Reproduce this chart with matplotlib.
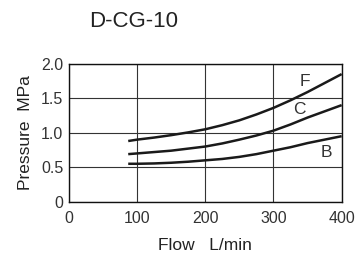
import numpy as np
import matplotlib
matplotlib.use("Agg")
import matplotlib.pyplot as plt

# Data (flow in L/min, pressure in MPa)
flow = [87, 100, 125, 150, 175, 200, 225, 250, 275, 300, 325, 350, 375, 400]
curve_f = [0.88, 0.90, 0.93, 0.965, 1.005, 1.05, 1.11, 1.18, 1.265, 1.36, 1.47, 1.59, 1.72, 1.85]
curve_c = [0.69, 0.70, 0.72, 0.74, 0.77, 0.80, 0.845, 0.90, 0.96, 1.03, 1.12, 1.22, 1.31, 1.40]
curve_b = [0.55, 0.55, 0.555, 0.565, 0.58, 0.60, 0.62, 0.65, 0.69, 0.74, 0.79, 0.85, 0.90, 0.95]
labels = ["F", "C", "B"]
label_pos = [(346, 1.74), (338, 1.33), (377, 0.71)]

x_ticks = [0, 100, 200, 300, 400]
y_ticks = [0, 0.5, 1.0, 1.5, 2.0]
y_tick_labels = ["0", "0.5", "1.0", "1.5", "2.0"]

font = ["Liberation Sans", "DejaVu Sans"]

fig = plt.figure(figsize=(3.57, 2.56), dpi=100)
ax = fig.add_axes([0.193, 0.212, 0.764, 0.539])

for ys in (curve_f, curve_c, curve_b):
    ax.plot(flow, ys, color="#1a1a1a", lw=1.8, solid_capstyle="butt")

for lab, (lx, ly) in zip(labels, label_pos):
    ax.text(lx, ly, lab, fontsize=12.5, family=font, color="#333333",
            ha="center", va="center")

ax.set_xlim(0, 400)
ax.set_ylim(0, 2.0)
ax.set_xticks(x_ticks)
ax.set_yticks(y_ticks)
ax.set_xticklabels([str(t) for t in x_ticks], family=font, fontsize=11.5)
ax.set_yticklabels(y_tick_labels, family=font, fontsize=11.5)
ax.tick_params(length=0, colors="#333333")
ax.tick_params(axis="x", pad=7)
ax.tick_params(axis="y", pad=4)
ax.grid(True, color="#333333", lw=0.8)
for sp in ax.spines.values():
    sp.set_color("#111111")
    sp.set_linewidth(1.0)

ax.set_xlabel("Flow   L/min", family=font, fontsize=12.5, labelpad=8,
              color="#222222")
ax.set_ylabel("Pressure  MPa", family=font, fontsize=12.5, labelpad=6,
              color="#222222")

fig.text(0.373, 0.915, "D-CG-10", family=font, fontsize=16,
         ha="center", va="center", color="#222222")

fig.savefig("out.png", dpi=100)
